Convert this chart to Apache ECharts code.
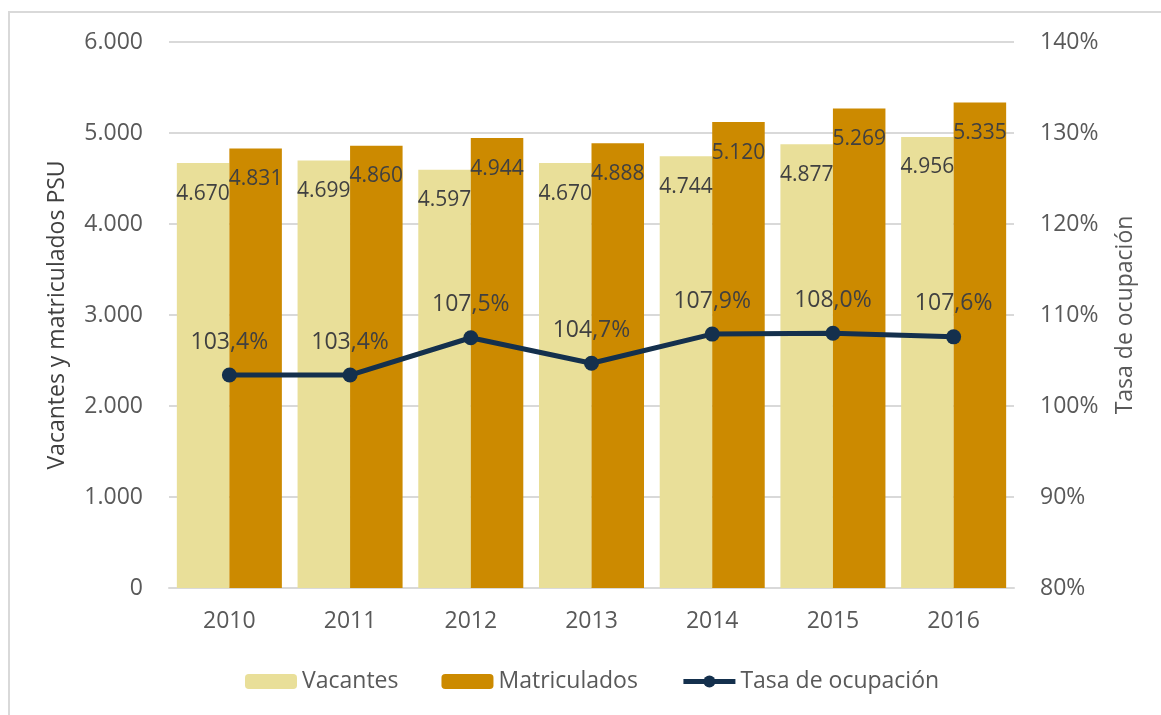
<!DOCTYPE html>
<html>
<head>
<meta charset="utf-8">
<script src="https://cdn.jsdelivr.net/npm/echarts@6/dist/echarts.min.js"></script>
<style>html,body{margin:0;padding:0;background:#fff}#c{width:1161px;height:715px}</style>
</head>
<body>
<div id="c"></div>
<script>
const years = ['2010','2011','2012','2013','2014','2015','2016'];
const vacantes = [4670, 4699, 4597, 4670, 4744, 4877, 4956];
const matriculados = [4831, 4860, 4944, 4888, 5120, 5269, 5335];
const tasa = [103.4, 103.4, 107.5, 104.7, 107.9, 108.0, 107.6];

const FONT = '"Open Sans", sans-serif';
const fmtThousands = v => String(Math.round(v)).replace(/\B(?=(\d{3})+(?!\d))/g, '.');
const LINE_COLOR = '#14304d';

const chart = echarts.init(document.getElementById('c'));
chart.setOption({
  animation: false,
  textStyle: { fontFamily: FONT },
  graphic: [{
    type: 'rect', shape: { x: 9, y: 12, width: 1300, height: 900 },
    style: { fill: 'none', stroke: '#d9d9d9', lineWidth: 2 }, silent: true, z: -1
  }],
  grid: { left: 169, right: 147, top: 42, bottom: 127 },
  legend: {
    bottom: 17, left: 240,
    itemWidth: 52, itemHeight: 15, itemGap: 43,
    textStyle: { fontSize: 23, color: '#595959', fontFamily: FONT },
    data: ['Vacantes', 'Matriculados', {
      name: 'Tasa de ocupación',
      lineStyle: { width: 5, color: LINE_COLOR },
      itemStyle: { color: LINE_COLOR }
    }]
  },
  xAxis: {
    type: 'category', data: years,
    axisLine: { lineStyle: { color: '#d9d9d9', width: 2 } },
    axisTick: { show: false },
    axisLabel: { fontSize: 23, color: '#595959', margin: 22, fontFamily: FONT }
  },
  yAxis: [{
    type: 'value', min: 0, max: 6000, interval: 1000,
    name: 'Vacantes y matriculados PSU', nameLocation: 'middle', nameGap: 100, nameRotate: 90,
    nameTextStyle: { fontSize: 23, color: '#404040', fontFamily: FONT },
    axisLine: { show: false }, axisTick: { show: false },
    splitLine: { lineStyle: { color: '#d9d9d9', width: 2 } },
    axisLabel: { fontSize: 23, color: '#595959', margin: 26, formatter: fmtThousands, fontFamily: FONT }
  }, {
    type: 'value', min: 80, max: 140, interval: 10,
    name: 'Tasa de ocupación', nameLocation: 'middle', nameGap: 100, nameRotate: 90,
    nameTextStyle: { fontSize: 23, color: '#595959', fontFamily: FONT },
    axisLine: { show: false }, axisTick: { show: false }, splitLine: { show: false },
    axisLabel: { fontSize: 23, color: '#595959', margin: 26, formatter: '{value}%', fontFamily: FONT }
  }],
  series: [{
    name: 'Vacantes', type: 'bar', data: vacantes,
    barGap: '0%', barCategoryGap: '13%',
    itemStyle: { color: '#e9df99' },
    label: { show: true, position: 'insideTop', distance: 20, fontSize: 21, color: '#404040',
      formatter: p => fmtThousands(p.value), fontFamily: FONT }
  }, {
    name: 'Matriculados', type: 'bar', data: matriculados,
    itemStyle: { color: '#cc8a00' },
    label: { show: true, position: 'insideTop', distance: 20, fontSize: 21, color: '#404040',
      formatter: p => fmtThousands(p.value), fontFamily: FONT }
  }, {
    name: 'Tasa de ocupación', type: 'line', yAxisIndex: 1, data: tasa,
    symbol: 'circle', symbolSize: 15,
    lineStyle: { color: LINE_COLOR, width: 5 },
    itemStyle: { color: LINE_COLOR },
    label: { show: true, position: 'top', distance: 14, fontSize: 23, color: '#404040',
      formatter: p => p.value.toFixed(1).replace('.', ',') + '%', fontFamily: FONT },
    z: 5
  }]
});
</script>
</body>
</html>
